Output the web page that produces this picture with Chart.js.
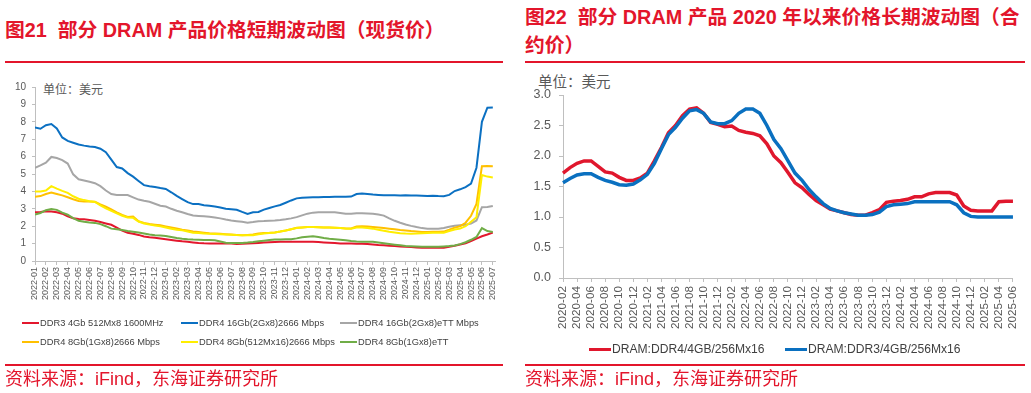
<!DOCTYPE html>
<html>
<head>
<meta charset="utf-8">
<script src="https://cdn.jsdelivr.net/npm/chart.js@4.4.1/dist/chart.umd.min.js"></script>
<style>
  body { margin: 0; width: 1031px; height: 393px; background: #fff; position: relative; overflow: hidden;
         font-family: "Liberation Sans", "Noto Sans CJK SC", sans-serif; }
  .title { position: absolute; color: #e3152b; font-weight: bold; font-size: 19.8px; line-height: 28px; white-space: nowrap; }
  .rule { position: absolute; height: 2px; background: #e3152b; }
  .src { position: absolute; color: #e3152b; font-size: 18px; line-height: 20px; white-space: nowrap; }
  .unit { position: absolute; color: #595959; white-space: nowrap; }
  .box { position: absolute; }
  .item { position: absolute; display: flex; align-items: center; white-space: nowrap; color: #404040; }
  .item i { display: inline-block; }
</style>
</head>
<body>

<div class="title" style="left:5px;top:16px;">图21&nbsp;&nbsp;部分 DRAM 产品价格短期波动图（现货价）</div>
<div class="rule" style="left:5px;top:61px;width:498px;"></div>
<div class="title" style="left:525px;top:3px;">图22&nbsp;&nbsp;部分 DRAM 产品 2020 年以来价格长期波动图（合<br>约价）</div>
<div class="rule" style="left:525px;top:61px;width:500px;"></div>

<div class="unit" style="left:43px;top:80px;font-size:12px;">单位：美元</div>
<div class="unit" style="left:538px;top:70px;font-size:14.5px;">单位：美元</div>

<div class="box" style="left:0;top:75px;width:510px;height:250px;"><canvas id="spot" width="510" height="250"></canvas></div>
<div class="box" style="left:515px;top:70px;width:516px;height:285px;"><canvas id="contract" width="516" height="285"></canvas></div>

<div id="spotLegend"></div>
<div id="contractLegend"></div>

<div class="rule" style="left:5px;top:364px;width:498px;"></div>
<div class="src" style="left:5px;top:369px;">资料来源：iFind，东海证券研究所</div>
<div class="rule" style="left:525px;top:364px;width:500px;"></div>
<div class="src" style="left:525px;top:369px;">资料来源：iFind，东海证券研究所</div>

<script>
// ---------- 图21 现货价（每半个月一个点，2022-01 起）----------
const spotMonths = [
  '2022-01','2022-02','2022-03','2022-04','2022-05','2022-06','2022-07','2022-08','2022-09','2022-10','2022-11','2022-12',
  '2023-01','2023-02','2023-03','2023-04','2023-05','2023-06','2023-07','2023-08','2023-09','2023-10','2023-11','2023-12',
  '2024-01','2024-02','2024-03','2024-04','2024-05','2024-06','2024-07','2024-08','2024-09','2024-10','2024-11','2024-12',
  '2025-01','2025-02','2025-03','2025-04','2025-05','2025-06','2025-07'
];
const spotNames = [
  'DDR3 4Gb 512Mx8 1600MHz',
  'DDR4 16Gb(2Gx8)2666 Mbps',
  'DDR4 16Gb(2Gx8)eTT Mbps',
  'DDR4 8Gb(1Gx8)2666 Mbps',
  'DDR4 8Gb(512Mx16)2666 Mbps',
  'DDR4 8Gb(1Gx8)eTT'
];
const ddr3_4gb = [
  2.80,2.82,2.86,2.85,2.80,2.72,2.57,2.46,2.41,2.40,
  2.36,2.31,2.24,2.16,2.08,1.92,1.75,1.62,1.57,1.50,
  1.41,1.36,1.33,1.29,1.25,1.21,1.17,1.13,1.10,1.07,
  1.04,1.02,1.01,1.01,1.01,1.01,1.00,0.98,0.99,1.01,
  1.02,1.04,1.06,1.08,1.09,1.10,1.10,1.10,1.10,1.10,
  1.10,1.10,1.09,1.07,1.05,1.03,1.01,1.01,1.00,0.99,
  0.99,0.98,0.95,0.92,0.90,0.88,0.86,0.84,0.82,0.80,
  0.78,0.76,0.76,0.76,0.76,0.76,0.82,0.88,0.95,1.02,
  1.15,1.29,1.42,1.52,1.63
];
const ddr4_16gb = [
  7.67,7.60,7.80,7.87,7.62,7.10,6.90,6.80,6.70,6.63,
  6.58,6.55,6.45,6.25,5.83,5.40,5.32,5.05,4.85,4.60,
  4.36,4.30,4.25,4.19,4.14,3.95,3.74,3.56,3.38,3.27,
  3.27,3.21,3.17,3.13,3.08,3.00,2.98,2.94,2.82,2.71,
  2.80,2.82,2.95,3.05,3.14,3.22,3.35,3.48,3.60,3.64,
  3.65,3.66,3.67,3.68,3.68,3.69,3.69,3.69,3.70,3.85,
  3.88,3.85,3.82,3.80,3.78,3.78,3.78,3.77,3.78,3.77,
  3.76,3.75,3.73,3.75,3.73,3.72,3.80,4.02,4.12,4.25,
  4.45,5.36,8.00,8.81,8.82
];
const ddr4_16gb_ett = [
  5.36,5.50,5.65,5.98,5.92,5.80,5.60,4.98,4.70,4.63,
  4.55,4.47,4.30,4.05,3.85,3.80,3.79,3.79,3.66,3.53,
  3.46,3.40,3.29,3.18,3.13,3.00,2.89,2.80,2.70,2.61,
  2.59,2.57,2.54,2.50,2.45,2.38,2.33,2.29,2.25,2.20,
  2.24,2.29,2.30,2.32,2.33,2.36,2.40,2.45,2.52,2.62,
  2.72,2.78,2.80,2.80,2.80,2.80,2.76,2.72,2.71,2.74,
  2.75,2.73,2.71,2.67,2.61,2.45,2.31,2.20,2.10,2.02,
  1.95,1.89,1.86,1.86,1.86,1.90,1.97,2.02,2.05,2.08,
  2.15,2.33,3.09,3.10,3.16
];
const ddr4_8gb_1gx8 = [
  3.69,3.73,3.85,3.93,3.85,3.77,3.66,3.55,3.45,3.42,
  3.42,3.40,3.25,3.12,2.96,2.80,2.65,2.53,2.56,2.28,
  2.19,2.13,2.09,2.05,1.99,1.93,1.87,1.80,1.75,1.69,
  1.66,1.63,1.60,1.58,1.56,1.54,1.52,1.50,1.48,1.50,
  1.52,1.58,1.61,1.62,1.64,1.69,1.75,1.83,1.91,1.93,
  1.95,1.95,1.94,1.93,1.92,1.91,1.89,1.87,1.87,1.98,
  2.00,1.98,1.95,1.92,1.89,1.86,1.82,1.78,1.75,1.72,
  1.70,1.67,1.67,1.68,1.68,1.69,1.80,1.92,2.00,2.20,
  2.60,3.28,5.45,5.46,5.45
];
const ddr4_8gb_512mx16 = [
  4.00,4.00,4.05,4.30,4.16,4.03,3.92,3.72,3.58,3.50,
  3.44,3.39,3.20,3.02,2.88,2.74,2.60,2.50,2.48,2.27,
  2.16,2.09,2.04,1.99,1.92,1.85,1.80,1.76,1.70,1.63,
  1.61,1.58,1.56,1.55,1.54,1.52,1.51,1.49,1.48,1.48,
  1.48,1.53,1.58,1.61,1.64,1.69,1.75,1.83,1.90,1.93,
  1.95,1.95,1.94,1.93,1.92,1.91,1.89,1.87,1.86,1.92,
  1.92,1.89,1.86,1.80,1.74,1.68,1.64,1.60,1.58,1.57,
  1.58,1.60,1.61,1.62,1.62,1.63,1.72,1.81,1.86,2.00,
  2.26,2.52,4.94,4.85,4.80
];
const ddr4_8gb_ett = [
  2.67,2.76,2.92,2.99,2.94,2.78,2.66,2.47,2.31,2.25,
  2.21,2.19,2.12,2.00,1.86,1.82,1.78,1.72,1.68,1.64,
  1.58,1.52,1.48,1.46,1.44,1.38,1.32,1.28,1.25,1.23,
  1.22,1.21,1.20,1.19,1.12,1.05,1.04,1.04,1.04,1.06,
  1.09,1.13,1.17,1.21,1.23,1.24,1.25,1.25,1.30,1.37,
  1.40,1.42,1.38,1.32,1.28,1.25,1.22,1.19,1.15,1.12,
  1.10,1.10,1.10,1.06,1.02,0.98,0.94,0.90,0.86,0.85,
  0.84,0.82,0.82,0.82,0.82,0.84,0.86,0.89,0.97,1.08,
  1.22,1.38,1.89,1.72,1.67
];
const spotYTicks = [0,1,2,3,4,5,6,7,8,9,10];

// ---------- 图22 合约价（月度，2020-02 起）----------
const contractMonths = [
  '2020-02','2020-03','2020-04','2020-05','2020-06','2020-07','2020-08','2020-09','2020-10','2020-11','2020-12',
  '2021-01','2021-02','2021-03','2021-04','2021-05','2021-06','2021-07','2021-08','2021-09','2021-10','2021-11','2021-12',
  '2022-01','2022-02','2022-03','2022-04','2022-05','2022-06','2022-07','2022-08','2022-09','2022-10','2022-11','2022-12',
  '2023-01','2023-02','2023-03','2023-04','2023-05','2023-06','2023-07','2023-08','2023-09','2023-10','2023-11','2023-12',
  '2024-01','2024-02','2024-03','2024-04','2024-05','2024-06','2024-07','2024-08','2024-09','2024-10','2024-11','2024-12',
  '2025-01','2025-02','2025-03','2025-04','2025-05','2025-06'
];
const contractNames = ['DRAM:DDR4/4GB/256Mx16', 'DRAM:DDR3/4GB/256Mx16'];
const ddr4Contract = [
  1.72,1.81,1.88,1.92,1.92,1.83,1.74,1.72,1.65,1.60,
  1.60,1.64,1.72,1.92,2.14,2.38,2.50,2.66,2.77,2.79,
  2.70,2.55,2.52,2.48,2.49,2.42,2.39,2.37,2.33,2.20,
  2.00,1.89,1.73,1.56,1.48,1.37,1.27,1.20,1.13,1.10,
  1.07,1.04,1.03,1.03,1.07,1.12,1.24,1.26,1.27,1.29,
  1.33,1.33,1.38,1.40,1.40,1.40,1.36,1.18,1.11,1.10,
  1.10,1.10,1.25,1.26,1.26
];
const ddr3Contract = [
  1.56,1.63,1.69,1.71,1.71,1.65,1.60,1.57,1.53,1.52,
  1.54,1.61,1.70,1.88,2.12,2.35,2.47,2.62,2.74,2.76,
  2.70,2.56,2.53,2.53,2.58,2.70,2.77,2.77,2.70,2.50,
  2.27,2.12,1.92,1.72,1.60,1.45,1.33,1.22,1.14,1.10,
  1.07,1.05,1.03,1.03,1.04,1.08,1.17,1.20,1.21,1.22,
  1.25,1.25,1.25,1.25,1.25,1.25,1.20,1.07,1.01,1.00,
  1.00,1.00,1.00,1.00,1.00
];
const contractYTicks = [0,0.5,1,1.5,2,2.5,3];

const spotColors = ['#e3172d','#0b70c2','#a6a6a6','#ffc000','#ffee00','#70ad47'];
const contractColors = ['#e0172d','#0a70c0'];
const axisGray = '#bfbfbf';
const tickGray = '#595959';

// 半月一个点 -> x 为月序号
const toPoints = arr => arr.map((v, i) => ({ x: i / 2, y: v }));
const spotSeries = [ddr3_4gb, ddr4_16gb, ddr4_16gb_ett, ddr4_8gb_1gx8, ddr4_8gb_512mx16, ddr4_8gb_ett];

new Chart(document.getElementById('spot'), {
  type: 'line',
  data: {
    datasets: spotSeries.map((s, i) => ({
      label: spotNames[i],
      data: toPoints(s),
      borderColor: spotColors[i],
      borderWidth: 2,
      pointRadius: 0,
      tension: 0,
      order: spotSeries.length - i
    }))
  },
  options: {
    responsive: false,
    animation: false,
    layout: { padding: { top: 10, right: 15, left: 0, bottom: 0 } },
    plugins: { legend: { display: false }, tooltip: { enabled: false } },
    scales: {
      x: {
        type: 'linear', min: 0, max: 42.2,
        afterBuildTicks: s => { s.ticks = spotMonths.map((m, i) => ({ value: i })); },
        afterFit: s => { s.height = 64; },
        ticks: { autoSkip: false, minRotation: 90, maxRotation: 90, padding: 2, color: tickGray,
                 font: { size: 9, family: 'Liberation Sans' }, callback: v => spotMonths[v] },
        grid: { drawOnChartArea: false, tickLength: 4, color: axisGray },
        border: { color: axisGray }
      },
      y: {
        min: 0, max: 10,
        afterBuildTicks: s => { s.ticks = spotYTicks.map(v => ({ value: v })); },
        afterFit: s => { s.width = 35; },
        ticks: { padding: 6, color: tickGray, font: { size: 10, family: 'Liberation Sans' } },
        grid: { drawOnChartArea: false, tickLength: 3, color: axisGray },
        border: { color: axisGray }
      }
    }
  }
});

const contractSeries = [ddr4Contract, ddr3Contract];
new Chart(document.getElementById('contract'), {
  type: 'line',
  data: {
    labels: contractMonths,
    datasets: contractSeries.map((s, i) => ({
      label: contractNames[i],
      data: s,
      borderColor: contractColors[i],
      borderWidth: 3.5,
      pointRadius: 0,
      tension: 0,
      order: contractSeries.length - i
    }))
  },
  options: {
    responsive: false,
    animation: false,
    layout: { padding: { top: 25, right: 17, left: 0, bottom: 0 } },
    plugins: { legend: { display: false }, tooltip: { enabled: false } },
    scales: {
      x: {
        offset: false,
        afterFit: s => { s.height = 77; },
        ticks: { autoSkip: false, minRotation: 90, maxRotation: 90, padding: 4, color: tickGray,
                 font: { size: 11.7, family: 'Liberation Sans' },
                 callback: (v, i) => (i % 2 === 0 ? contractMonths[i] : null) },
        grid: { drawOnChartArea: false, tickLength: 4, color: axisGray },
        border: { color: axisGray }
      },
      y: {
        min: 0, max: 3,
        afterBuildTicks: s => { s.ticks = contractYTicks.map(v => ({ value: v })); },
        afterFit: s => { s.width = 48; },
        ticks: { padding: 8, color: tickGray, font: { size: 12.5, family: 'Liberation Sans' },
                 callback: v => v.toFixed(1) },
        grid: { drawOnChartArea: false, tickLength: 4, color: axisGray },
        border: { color: axisGray }
      }
    }
  }
});

// 图例（HTML），位置按原图
function addLegend(holderId, names, colors, spots, lineW, lineH, fontSize) {
  const holder = document.getElementById(holderId);
  names.forEach((name, i) => {
    const el = document.createElement('div');
    el.className = 'item';
    el.style.left = spots[i][0] + 'px';
    el.style.top = (spots[i][1] - 8) + 'px';
    el.style.height = '16px';
    el.style.fontSize = fontSize + 'px';
    const line = document.createElement('i');
    line.style.width = lineW + 'px';
    line.style.height = lineH + 'px';
    line.style.background = colors[i];
    line.style.marginRight = '1px';
    el.appendChild(line);
    el.appendChild(document.createTextNode(name));
    holder.appendChild(el);
  });
}
addLegend('spotLegend', spotNames, spotColors,
  [[22, 323], [181, 323], [340, 323], [22, 342], [181, 342], [340, 342]], 17, 2, 9.3);
addLegend('contractLegend', contractNames, contractColors,
  [[589, 349], [785, 349]], 22, 3, 12.1);
</script>
</body>
</html>
